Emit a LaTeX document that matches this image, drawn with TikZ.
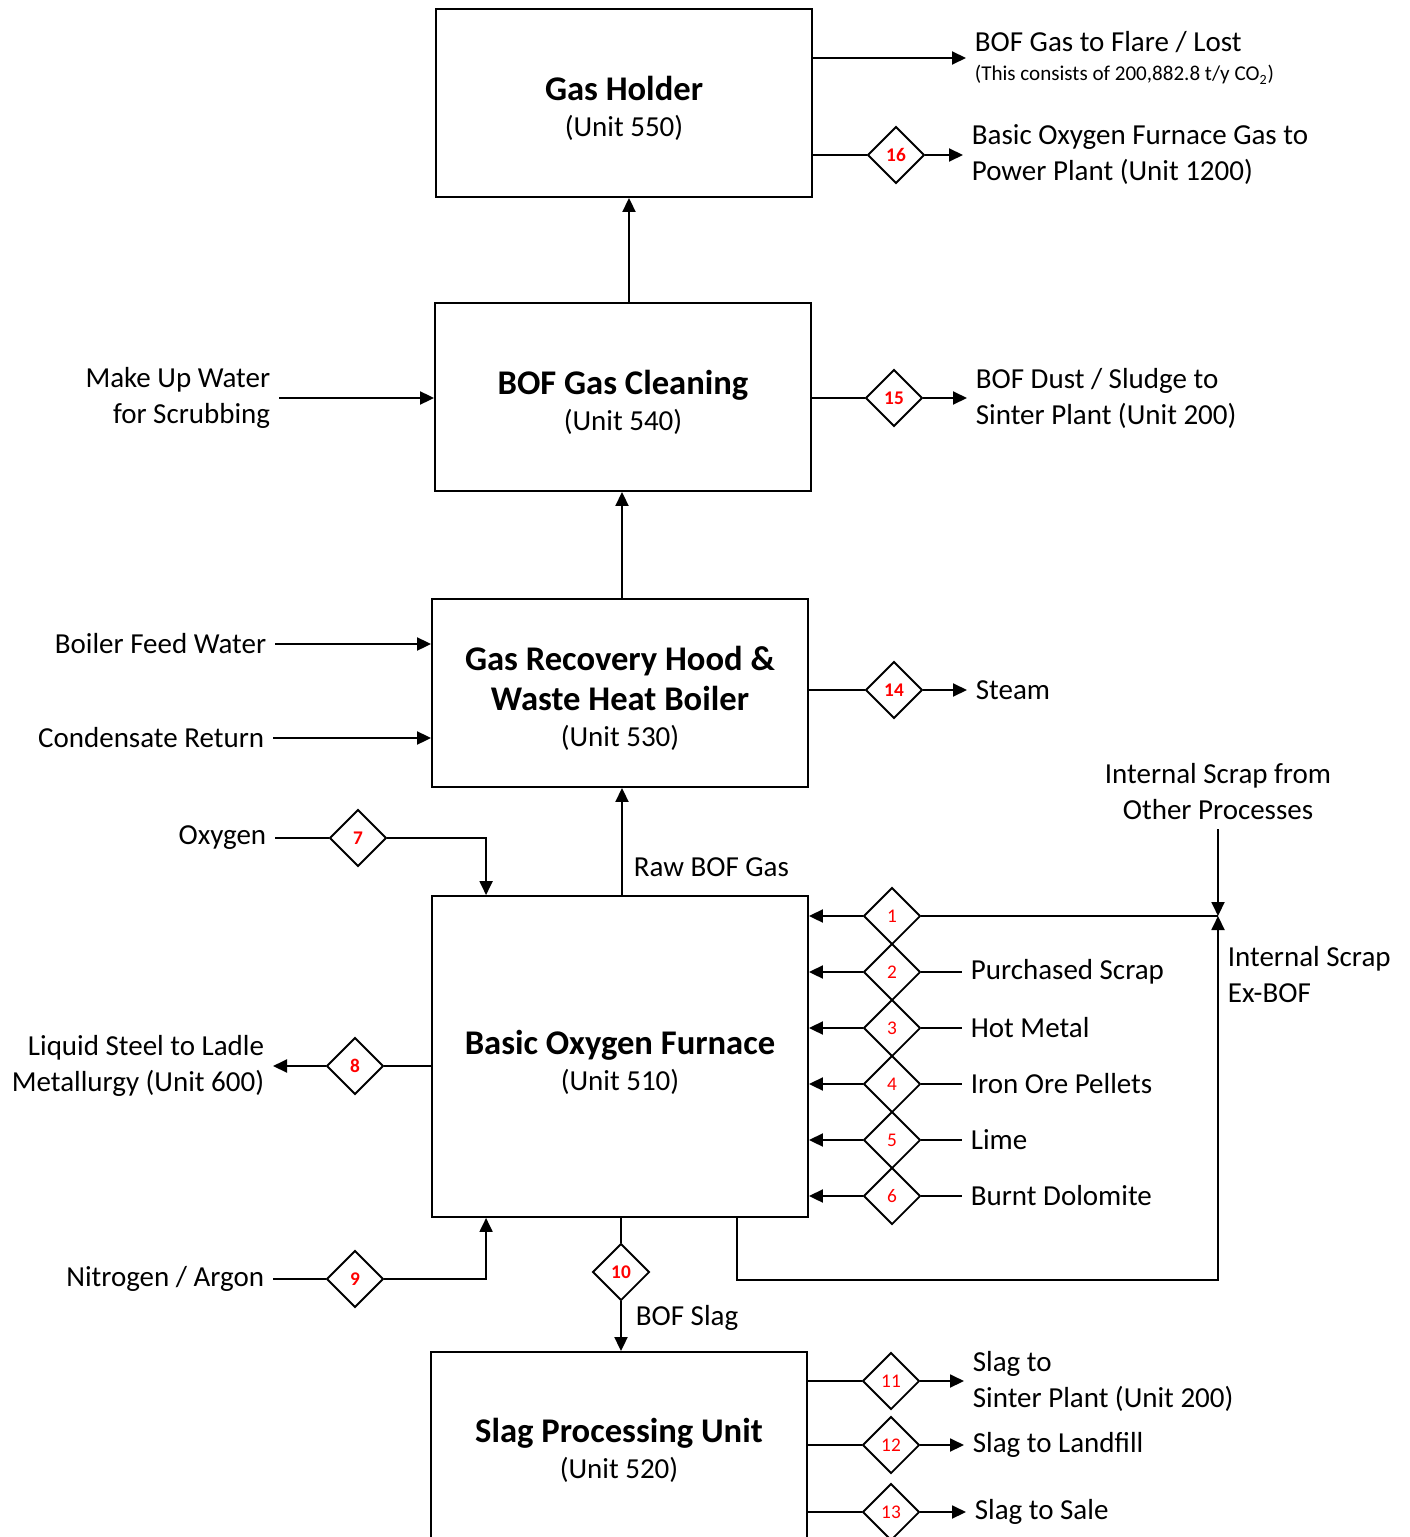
\documentclass[tikz,border=0pt]{standalone}
\usepackage{fontspec}
\setmainfont{Carlito}
\usetikzlibrary{positioning,shapes.geometric,arrows.meta}

\newcommand{\unitttl}{\rule{0pt}{20pt}\fontsize{19.7}{24}\selectfont\bfseries}

\begin{document}
\begin{tikzpicture}[
x=0.02cm, y=-0.02cm,
line width=1.1pt,
font=\fontsize{16.5}{20.5}\selectfont,
unit/.style={draw, minimum width=7.52cm, minimum height=3.76cm, align=center},
tag/.style={diamond, draw, fill=white, minimum size=1.14cm, inner sep=0pt, text=red, font=\fontsize{11}{13}\selectfont\bfseries},
tagn/.style={tag, font=\fontsize{11}{13}\selectfont},
lbl/.style={inner sep=4.5pt},
flow/.style={-{Triangle[length=0.28cm,width=0.26cm]}},
]
\useasboundingbox (0,0) rectangle (1409,1537);

% process units
\node[unit] (gh) at (624,103) {{\unitttl Gas Holder}\\(Unit 550)};
\node[unit] (gc) at (623,397) {{\unitttl BOF Gas Cleaning}\\(Unit 540)};
\node[unit] (grh) at (620,693) {{\unitttl Gas Recovery Hood \&}\\[2pt]{\fontsize{19.7}{24}\selectfont\bfseries Waste Heat Boiler}\\(Unit 530)};
\node[unit, minimum height=6.42cm] (bof) at (620,1056.5) {{\unitttl Basic Oxygen Furnace}\\(Unit 510)};
\node[unit, minimum height=3.9cm] (spu) at (619,1449.5) {{\unitttl Slag Processing Unit}\\(Unit 520)\rule[-8pt]{0pt}{0pt}};

% stream numbers
\node[tag] (d16) at (896,155) {16};
\node[tag] (d15) at (894,398) {15};
\node[tag] (d14) at (894,690) {14};
\node[tag] (d7) at (358,838) {7};
\node[tag] (d8) at (355,1066) {8};
\node[tag] (d9) at (355,1279) {9};
\node[tag] (d10) at (621,1272) {10};
\node[tagn] (d1) at (892,916) {1};
\node[tagn] (d11) at (891,1381) {11};
\node[tagn] (d12) at (891,1445) {12};
\node[tagn] (d13) at (891,1512) {13};

% stream labels
\node[lbl, anchor=west, align=left] (flare) at (966,58) {BOF Gas to Flare / Lost\\[-4pt]{\fontsize{12}{14}\selectfont (This consists of 200,882.8 t/y CO\textsubscript{2})}};
\node[lbl, anchor=west, align=left] (ppl) at (963,155) {Basic Oxygen Furnace Gas to\\Power Plant (Unit 1200)};
\node[lbl, anchor=west, align=left] (dust) at (967,398) {BOF Dust / Sludge to\\Sinter Plant (Unit 200)};
\node[lbl, anchor=west] (steam) at (967,690) {Steam};
\node[lbl, anchor=east, align=right] (mkw) at (279,398) {Make Up Water\\for Scrubbing};
\node[lbl, anchor=east] (bfw) at (275,644) {Boiler Feed Water};
\node[lbl, anchor=east] (cr) at (273,738) {Condensate Return};
\node[lbl, anchor=east] (oxy) at (275,838) {Oxygen};
\node[lbl, anchor=east, align=right] (lsl) at (273,1066) {Liquid Steel to Ladle\\Metallurgy (Unit 600)};
\node[lbl, anchor=east] (n2) at (273,1279) {Nitrogen / Argon};
\node[lbl, anchor=west] (raw) at (625,867) {Raw BOF Gas};
\node[lbl, anchor=west] (slag) at (627,1318) {BOF Slag};
\node[lbl, align=center] (isop) at (1218,792) {Internal Scrap from\\Other Processes};
\node[lbl, anchor=west, align=left] (isxb) at (1219,975) {Internal Scrap\\Ex-BOF};
\node[lbl, anchor=west, align=left] (sst) at (964,1381) {Slag to\\Sinter Plant (Unit 200)};
\node[lbl, anchor=west] (slf) at (964,1445) {Slag to Landfill};
\node[lbl, anchor=west] (ssa) at (966,1512) {Slag to Sale};
\coordinate (jn) at (1218,916);

% feeds to the furnace
\foreach \n/\y/\name/\txt in {2/972/ps/Purchased Scrap, 3/1028/hm/Hot Metal, 4/1084/iop/Iron Ore Pellets, 5/1140/lime/Lime, 6/1196/bd/Burnt Dolomite} {
  \node[tagn] (d\n) at (892,\y) {\n};
  \node[lbl, anchor=west] (\name) at (962,\y) {\txt};
  \draw[flow] (d\n.west) -- (d\n.west -| bof.east);
  \draw (d\n.east) -- (\name.west);
}

\path
([xshift=0.12cm]gc.north) edge[flow] ([xshift=0.12cm]gc.north |- gh.south)
([xshift=0.04cm]grh.north) edge[flow] ([xshift=0.04cm]grh.north |- gc.south)
([xshift=0.04cm]bof.north) edge[flow] ([xshift=0.04cm]bof.north |- grh.south)
(flare.west -| gh.east) edge[flow] (flare.west)
(d16.west -| gh.east) edge (d16.west)
(d16.east) edge[flow] (ppl.west)
(d15.west -| gc.east) edge (d15.west)
(d15.east) edge[flow] (dust.west)
(d14.west -| grh.east) edge (d14.west)
(d14.east) edge[flow] (steam.west)
(mkw.east) edge[flow] (mkw.east -| gc.west)
(bfw.east) edge[flow] (bfw.east -| grh.west)
(cr.east) edge[flow] (cr.east -| grh.west)
(oxy.east) edge (d7.west)
(d8.east -| bof.west) edge (d8.east)
(d8.west) edge[flow] (lsl.east)
(n2.east) edge (d9.west)
(bof.south -| d10) edge (d10.north)
(d10.south) edge[flow] (d10.south |- spu.north)
(d1.west) edge[flow] (d1.west -| bof.east)
(d1.east) edge (jn)
(isop.south) edge[flow] (jn)
(d11.west -| spu.east) edge (d11.west)
(d11.east) edge[flow] (sst.west)
(d12.west -| spu.east) edge (d12.west)
(d12.east) edge[flow] (slf.west)
(d13.west -| spu.east) edge (d13.west)
(d13.east) edge[flow] (ssa.west)
;
\draw[flow] (d7.east) -| ([xshift=1.1cm]bof.north west);
\draw[flow] (d9.east) -| ([xshift=1.1cm]bof.south west);
\draw[flow] ([xshift=2.34cm]bof.south) -- ++(0,62) -| (jn);
\end{tikzpicture}
\end{document}
